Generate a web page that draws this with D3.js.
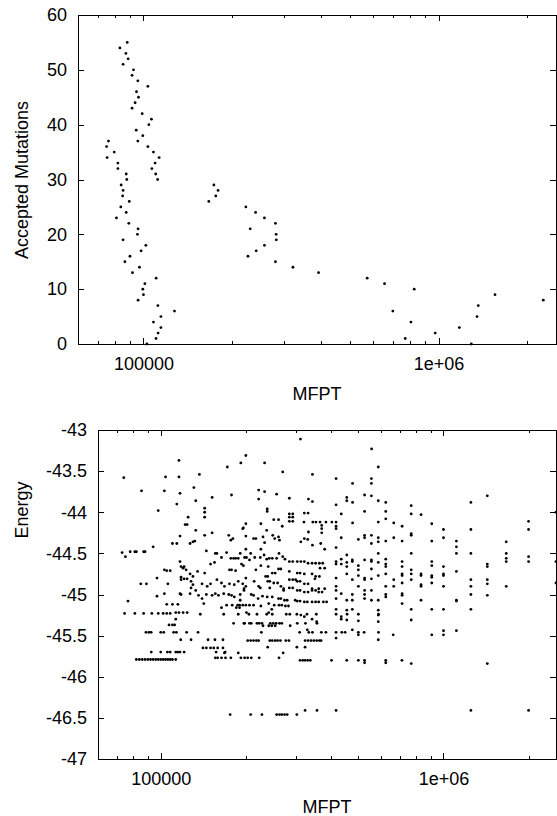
<!doctype html>
<html>
<head>
<meta charset="utf-8">
<script src="https://cdnjs.cloudflare.com/ajax/libs/d3/7.8.5/d3.min.js"></script>
<style>
  body { margin: 0; background: #fff; }
  text { font-family: "Liberation Sans", Arial, Helvetica, sans-serif; fill: #000; }
</style>
</head>
<body>
<svg id="chart" width="557" height="816"></svg>
<script>
// ---- data: top panel (accepted mutations vs MFPT), MFPT in thousands ----
var mutationLevels = d3.range(0, 56);
// left cluster, one point per level 0..55
var mfptBranchA = [102.7, 110.3, 112.1, 114.6, 108.1, 114.6, 127.4, 111.9, 95.9, 100.0,
                   99.5, 101.1, 110.4, 91.8, 96.9, 86.5, 90.0, 98.2, 101.9, 85.3,
                   95.4, 95.9, 89.2, 81.0, 87.4, 83.8, 89.5, 85.0, 85.3, 84.0,
                   87.8, 87.4, 81.9, 81.9, 75.3, 79.6, 75.0, 76.1, 99.5, 94.5,
                   104.3, 106.4, 99.0, 91.5, 93.7, 96.2, 94.7, 103.5, 95.7, 91.5,
                   92.5, 85.3, 88.7, 87.2, 83.2, 88.1];
// right branch, levels 0..37
var mfptBranchB = [1291, 771, 974, 1176, 806, 1350, 700, 1363, 2264, 1553,
                   827, 656, 573, 392, 321, 280, 226, 241, 257, 282,
                   281.5, 230, 280, 257, 239.8, 222.3, 166.5, 175.8, 179.0, 173.2,
                   111.7, 110.0, 106.8, 109.5, 113.0, 108.1, 103.5, 95.7];

// ---- data: bottom panel (energy vs MFPT), MFPT in thousands ----
var energyLevels = [
  -43.11, -43.23, -43.31, -43.37, -43.40, -43.45, -43.51, -43.54, -43.57, -43.58,
  -43.59, -43.65, -43.70, -43.73, -43.74, -43.75, -43.77, -43.78, -43.79, -43.80,
  -43.82, -43.83, -43.84, -43.86, -43.87, -43.88, -43.90, -43.91, -43.92, -43.95,
  -43.96, -43.98, -43.99, -44.00, -44.01, -44.02, -44.03, -44.06, -44.08, -44.09,
  -44.11, -44.12, -44.13, -44.14, -44.15, -44.16, -44.17, -44.19, -44.20, -44.21,
  -44.22, -44.24, -44.25, -44.26, -44.28, -44.29, -44.30, -44.31, -44.32, -44.33,
  -44.34, -44.35, -44.36, -44.37, -44.38, -44.40, -44.42, -44.43, -44.45, -44.47,
  -44.48, -44.49, -44.50, -44.52, -44.54, -44.55, -44.56, -44.57, -44.58, -44.60,
  -44.61, -44.62, -44.63, -44.65, -44.66, -44.68, -44.69, -44.70, -44.71, -44.72,
  -44.74, -44.75, -44.77, -44.78, -44.79, -44.80, -44.81, -44.82, -44.84, -44.86,
  -44.87, -44.88, -44.90, -44.92, -44.93, -44.95, -44.97, -44.99, -45.00, -45.01,
  -45.02, -45.03, -45.05, -45.07, -45.08, -45.09, -45.11, -45.12, -45.13, -45.14,
  -45.16, -45.18, -45.19, -45.22, -45.23, -45.24, -45.25, -45.27, -45.30, -45.31,
  -45.32, -45.33, -45.35, -45.37, -45.38, -45.43, -45.44, -45.46, -45.49, -45.53,
  -45.55, -45.56, -45.64, -45.65, -45.70, -45.71, -45.77, -45.79, -45.80, -45.83,
  -45.84, -46.41, -46.46
];
var mfptAtEnergy = [
  [312], [557], [200], [116], [192, 233], [172, 588], [270], [137, 344], [104, 116], [74],
  [417, 556], [477, 556], [131], [222], [85.5, 103], [233], [117], [257], [178, 526], [556, 1429],
  [152, 455], [285], [222, 333], [133, 455, 588], [344], [477, 625, 1250], [114], [417], [769], [143],
  [238], [98], [238, 526, 625], [143, 2500], [322, 332], [285, 293, 435, 769], [833], [125, 143, 285, 293], [625], [251, 261],
  [285, 293, 2000], [321, 345, 354, 366, 384, 403, 417, 588], [477, 667], [200, 226, 909], [122, 124], [371], [269, 417, 714], [196], [195, 371, 417], [1000, 1250, 2000],
  [133, 237], [333], [152, 371], [769], [143, 174, 249, 526, 556, 769], [117, 200], [230, 261], [435, 526, 588, 667, 1000], [180, 213, 217, 253, 322], [331, 500],
  [177, 263], [132, 625, 714, 909, 1111], [130, 313, 588, 1667], [233], [110, 114, 127, 368, 556], [344], [94, 1111], [417], [200, 226, 380], [145],
  [78, 81, 82, 87, 88], [73, 171], [156, 158, 191, 208, 262, 588, 769, 1111, 1250, 1667], [232, 455], [75, 270, 2000], [164, 198, 201, 215, 225], [177, 181, 184, 188, 242, 248, 257, 1667], [237, 275, 435, 625], [206, 476, 526, 556], [117, 285, 293, 304, 313, 322, 417, 476, 556, 714, 909, 1667, 2000, 2500],
  [155, 455, 588], [332, 343, 353, 364, 374], [150, 193, 417, 435, 625, 1429], [196, 226, 500, 909], [118, 121, 240, 455, 625, 714, 1000, 1429], [120, 366, 380], [261, 266, 556], [103, 123, 175, 178, 217, 500, 769], [105, 108, 184], [135, 285, 1111],
  [143, 248, 254, 304, 311], [127, 322, 343, 455, 625, 714, 769, 833, 1000], [500, 588, 714, 833, 909, 1000], [130, 235, 239, 353, 364], [118, 909], [97, 200, 417, 526], [121, 124, 351, 556], [118, 158, 285, 293, 300, 476, 526, 667, 769, 1250, 1429], [128, 188, 214, 239, 243, 304, 311], [164, 251, 259, 714, 909, 2500],
  [85, 89, 106, 140, 150, 175, 195, 322, 332, 1429], [130, 182, 833], [146, 168, 200, 222, 266, 417, 500, 625, 667, 833, 1000, 1250, 1667], [128, 225, 243, 285, 293], [197, 272, 343, 362, 380], [133, 197, 272, 304, 311, 343, 353, 417, 526, 556], [322, 332, 362, 372], [103, 117, 127, 156, 167, 435, 714], [118, 145, 174, 191, 209, 476, 526, 625, 1250], [136, 152, 160, 178, 213, 714, 1429],
  [97, 229], [182, 238, 248, 625], [140, 221, 261, 266, 417, 526], [191, 274, 280, 299, 455, 476, 556, 588, 833, 1111], [76.6, 304, 311, 1111], [322, 330, 343, 353, 362, 376, 386], [142, 241, 714], [105, 110, 115], [171, 179, 187, 190, 195, 200, 206, 213, 252, 262, 268], [226, 276, 283],
  [164, 185, 190], [247, 417, 476, 769, 909, 1000, 1250], [455, 588], [113, 116, 120, 124, 201, 241], [74.5, 81, 87, 93, 98, 102, 105, 108], [138, 167, 188, 205, 219, 237, 248, 278, 286, 303, 329, 355, 417, 456, 500, 589], [313, 588], [322, 435], [113, 343, 435], [455, 769],
  [500], [356, 588], [181, 197, 198, 206, 209, 219, 223, 228, 244, 250, 256, 263, 268, 304, 325, 357], [107, 110, 112], [230, 241, 247, 254, 287], [330, 476], [1000, 1111], [88.7, 90.8, 92.5, 100, 102.5, 111, 113.6, 123.5, 135.5, 227, 310, 334, 344, 370, 384, 417, 437, 449, 500, 524, 589], [500, 664, 909, 1000], [417],
  [117.7, 128, 147, 155.5, 166, 588], [203, 208, 213, 218, 222, 243, 248, 254, 259, 265, 277, 284, 324, 332, 340, 348, 356, 364, 369], [239, 303, 324], [141, 145, 150, 154, 159, 166], [92.6, 100, 105.6, 108, 113, 115, 117, 121, 157, 169], [168, 188, 271], [156, 159, 164, 169.5, 177, 192, 198, 203, 209, 223, 262], [82, 84, 86, 88, 90, 92, 94, 96, 98, 100, 102, 104, 106, 108, 110, 113], [311, 318, 324, 331, 338, 402, 455, 500, 526, 625, 713], [526, 625],
  [769, 1429], [324, 357, 417, 1250, 2000], [176, 208, 228, 257, 263, 268, 274, 280, 303]
];

// ---- axis settings ----
var xDomain = [60000, 2500000];
var xMajor = [100000, 1000000];
var xMinor = [70000, 80000, 90000, 200000, 300000, 400000, 500000, 600000, 700000, 800000, 900000, 2000000];
var mutationTicks = [0, 10, 20, 30, 40, 50, 60];
var energyTicks = [-47, -46.5, -46, -45.5, -45, -44.5, -44, -43.5, -43];

// build point lists
var topPoints = [];
mutationLevels.forEach(function(m, i) {
    topPoints.push({x: mfptBranchA[i] * 1000, y: m});
    if (i < mfptBranchB.length) topPoints.push({x: mfptBranchB[i] * 1000, y: m});
});
var bottomPoints = [];
energyLevels.forEach(function(e, i) {
    mfptAtEnergy[i].forEach(function(v) {
        bottomPoints.push({x: v * 1000, y: e});
    });
});

var svg = d3.select("#chart");
var fontSize = 18;

function drawPanel(cfg) {
    var x = d3.scaleLog().domain(xDomain).range([cfg.left, cfg.right]);
    var y = d3.scaleLinear().domain(cfg.yDomain).range([cfg.bottom, cfg.top]);
    var g = svg.append("g");

    var xFmt = function(d) { return d === 100000 ? "100000" : "1e+06"; };

    // bottom axis with labels
    g.append("g")
        .attr("transform", "translate(0," + cfg.bottom + ")")
        .call(d3.axisBottom(x).tickValues(xMajor).tickFormat(xFmt)
            .tickSizeInner(-6).tickSizeOuter(0).tickPadding(13));
    g.append("g")
        .attr("transform", "translate(0," + cfg.bottom + ")")
        .call(d3.axisBottom(x).tickValues(xMinor).tickFormat("")
            .tickSizeInner(-3).tickSizeOuter(0));
    // mirrored top ticks
    g.append("g")
        .attr("transform", "translate(0," + cfg.top + ")")
        .call(d3.axisTop(x).tickValues(xMajor).tickFormat("")
            .tickSizeInner(-6).tickSizeOuter(0));
    g.append("g")
        .attr("transform", "translate(0," + cfg.top + ")")
        .call(d3.axisTop(x).tickValues(xMinor).tickFormat("")
            .tickSizeInner(-3).tickSizeOuter(0));
    // y axis left with labels, right mirrored
    g.append("g")
        .attr("transform", "translate(" + cfg.left + ",0)")
        .call(d3.axisLeft(y).tickValues(cfg.yTicks).tickFormat(function(d) { return String(d); })
            .tickSizeInner(-6).tickSizeOuter(0).tickPadding(11));
    g.append("g")
        .attr("transform", "translate(" + cfg.right + ",0)")
        .call(d3.axisRight(y).tickValues(cfg.yTicks).tickFormat("")
            .tickSizeInner(-6).tickSizeOuter(0));

    g.selectAll(".domain").remove();
    g.selectAll(".tick line").attr("stroke", "#000").attr("shape-rendering", "crispEdges");
    g.selectAll(".tick text").attr("font-size", fontSize)
        .attr("font-family", "Liberation Sans, Arial, sans-serif").attr("fill", "#000");

    // frame
    g.append("rect")
        .attr("x", cfg.left).attr("y", cfg.top)
        .attr("width", cfg.right - cfg.left).attr("height", cfg.bottom - cfg.top)
        .attr("fill", "none").attr("stroke", "#000").attr("stroke-width", 1)
        .attr("shape-rendering", "crispEdges");

    // points
    g.append("g").selectAll("circle")
        .data(cfg.points)
        .enter().append("circle")
        .attr("cx", function(d) { return x(d.x); })
        .attr("cy", function(d) { return y(d.y); })
        .attr("r", 1.4)
        .attr("fill", "#000");

    // axis titles
    g.append("text")
        .attr("x", (cfg.left + cfg.right) / 2)
        .attr("y", cfg.xTitleY)
        .attr("text-anchor", "middle")
        .attr("font-size", fontSize)
        .text("MFPT");
    g.append("text")
        .attr("transform", "translate(" + cfg.yTitleX + "," + cfg.yTitleY + ") rotate(-90)")
        .attr("text-anchor", "middle")
        .attr("font-size", fontSize)
        .text(cfg.yTitle);
}

drawPanel({
    left: 78, right: 556, top: 15, bottom: 344,
    yDomain: [0, 60], yTicks: mutationTicks, points: topPoints,
    xTitleY: 400, yTitleX: 28, yTitleY: 180, yTitle: "Accepted Mutations"
});

drawPanel({
    left: 98, right: 556, top: 430, bottom: 759,
    yDomain: [-47, -43], yTicks: energyTicks, points: bottomPoints,
    xTitleY: 813, yTitleX: 28, yTitleY: 510, yTitle: "Energy"
});
</script>
</body>
</html>
